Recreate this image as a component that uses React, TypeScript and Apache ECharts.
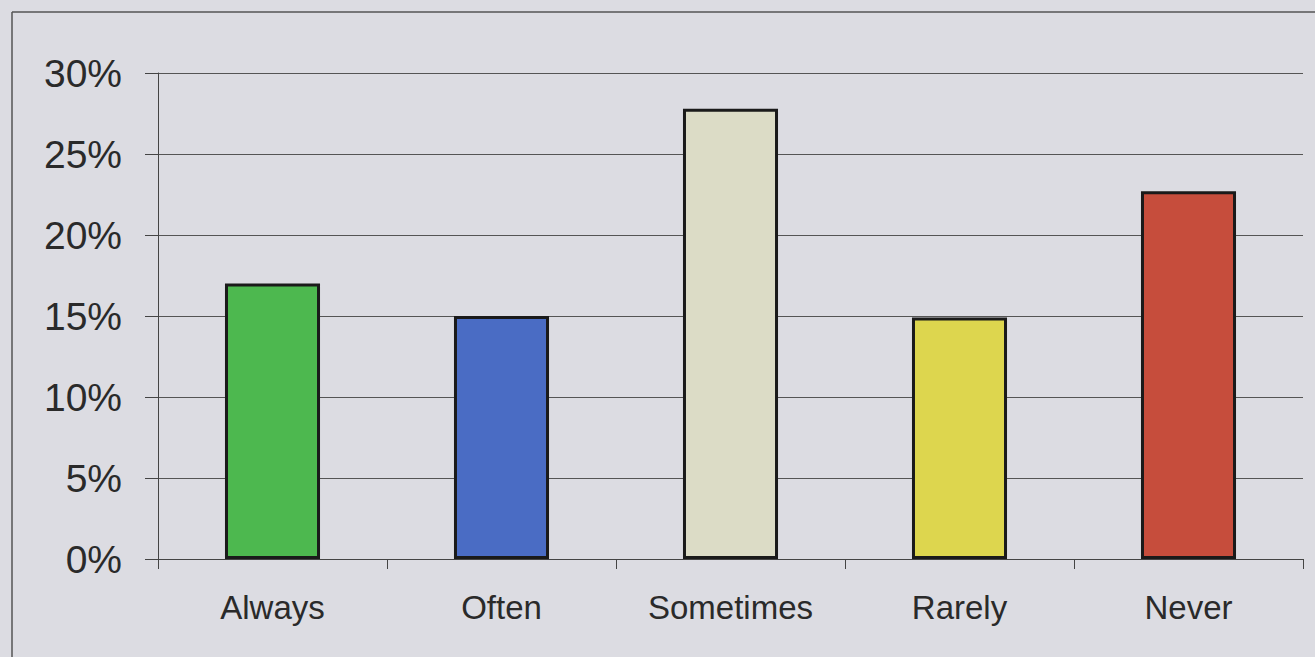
import React, { useEffect, useRef } from "react";
import * as echarts from "echarts";

const categories = ["Always", "Often", "Sometimes", "Rarely", "Never"];
const values = [17, 15, 27.8, 14.9, 22.7];
const barColors = ["#4db84f", "#4a6cc4", "#dcdcc6", "#ddd64e", "#c64d3c"];
const yTicks = [0, 5, 10, 15, 20, 25, 30];

export default function App() {
  const ref = useRef<HTMLDivElement>(null);
  useEffect(() => {
    if (!ref.current) return;
    const chart = echarts.init(ref.current, null, { renderer: "svg" });
    chart.setOption({
      animation: false,
      backgroundColor: "#dcdce2",
      textStyle: { fontFamily: "Liberation Sans, Arial, sans-serif" },
      graphic: [
        { type: "line", shape: { x1: 12, y1: 12, x2: 1315, y2: 12 }, style: { stroke: "#555", lineWidth: 1.5 } },
        { type: "line", shape: { x1: 12, y1: 12, x2: 12, y2: 657 }, style: { stroke: "#555", lineWidth: 1.5 } },
      ],
      grid: { left: 158, right: 12, top: 73, bottom: 98, containLabel: false },
      xAxis: {
        type: "category",
        data: categories,
        axisLine: { show: true, lineStyle: { color: "#444", width: 1 } },
        axisTick: { show: true, length: 10, lineStyle: { color: "#444" }, alignWithLabel: false },
        axisLabel: { color: "#2a2a2a", fontSize: 33, margin: 32 },
      },
      yAxis: {
        type: "value",
        min: yTicks[0],
        max: yTicks[yTicks.length - 1],
        interval: 5,
        axisLine: { show: true, lineStyle: { color: "#444", width: 1 } },
        axisTick: { show: true, length: 13, lineStyle: { color: "#444" } },
        axisLabel: { color: "#2a2a2a", fontSize: 39, margin: 36, formatter: (v: number) => v + "%" },
        splitLine: { show: true, lineStyle: { color: "#555", width: 1 } },
      },
      series: [
        {
          type: "bar",
          data: values.map((v, i) => ({
            value: v,
            itemStyle: { color: barColors[i], borderColor: "#1a1a1a", borderWidth: 3 },
          })),
          barWidth: "41.5%",
        },
      ],
    });
    return () => chart.dispose();
  }, []);
  return <div ref={ref} style={{ width: 1315, height: 657, position: "absolute", left: 0, top: 0 }} />;
}
